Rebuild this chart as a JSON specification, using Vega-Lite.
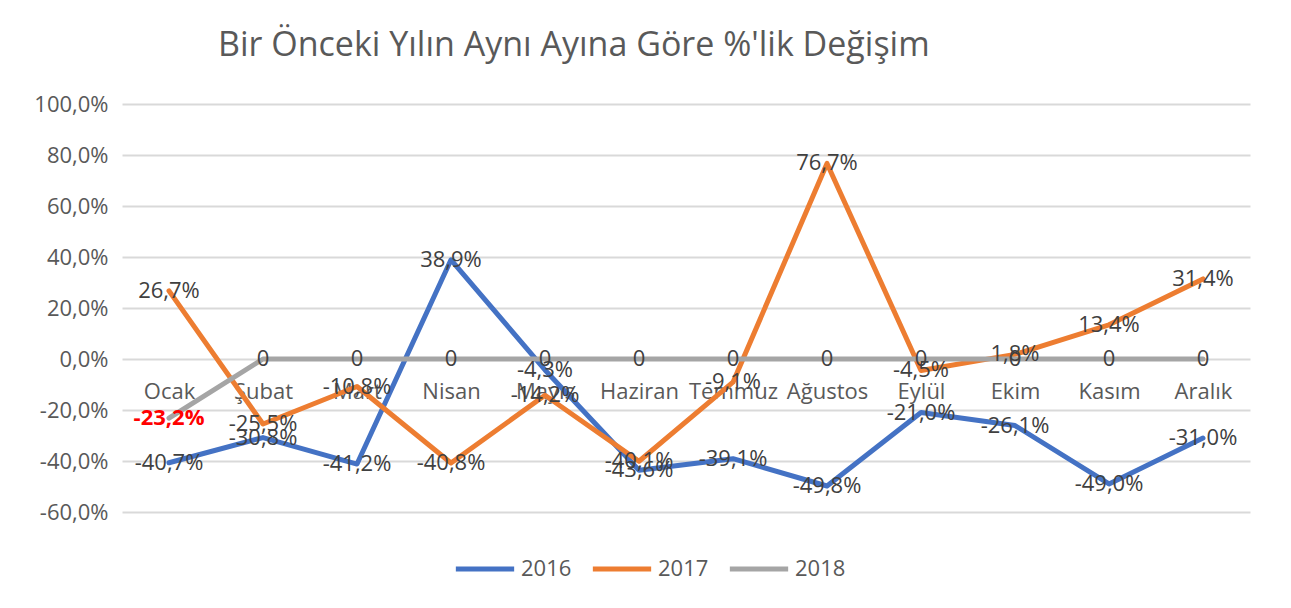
{
  "$schema": "https://vega.github.io/schema/vega-lite/v6.json",
  "width": 1128,
  "height": 408,
  "autosize": {"type": "none"},
  "padding": {"left": 122, "top": 104, "right": 41, "bottom": 96},
  "background": "white",
  "title": {
    "text": "Bir Önceki Yılın Aynı Ayına Göre %'lik Değişim",
    "anchor": "start",
    "frame": "group",
    "dx": 96,
    "offset": 30,
    "fontSize": 34,
    "font": "Open Sans",
    "fontWeight": "normal",
    "color": "#595959"
  },
  "config": {
    "locale": {"number": {"decimal": ",", "thousands": ".", "grouping": [3], "currency": ["₺", ""], "minus": "-"}},
    "font": "Open Sans",
    "view": {"stroke": null}
  },
  "data": {
    "values": [
      {"ay": "Ocak", "yil": "2016", "deger": -0.407},
      {"ay": "Şubat", "yil": "2016", "deger": -0.308},
      {"ay": "Mart", "yil": "2016", "deger": -0.412},
      {"ay": "Nisan", "yil": "2016", "deger": 0.389},
      {"ay": "Mayıs", "yil": "2016", "deger": -0.043},
      {"ay": "Haziran", "yil": "2016", "deger": -0.436},
      {"ay": "Temmuz", "yil": "2016", "deger": -0.391},
      {"ay": "Ağustos", "yil": "2016", "deger": -0.498},
      {"ay": "Eylül", "yil": "2016", "deger": -0.210},
      {"ay": "Ekim", "yil": "2016", "deger": -0.261},
      {"ay": "Kasım", "yil": "2016", "deger": -0.490},
      {"ay": "Aralık", "yil": "2016", "deger": -0.310},
      {"ay": "Ocak", "yil": "2017", "deger": 0.267},
      {"ay": "Şubat", "yil": "2017", "deger": -0.255},
      {"ay": "Mart", "yil": "2017", "deger": -0.108},
      {"ay": "Nisan", "yil": "2017", "deger": -0.408},
      {"ay": "Mayıs", "yil": "2017", "deger": -0.142},
      {"ay": "Haziran", "yil": "2017", "deger": -0.401},
      {"ay": "Temmuz", "yil": "2017", "deger": -0.091},
      {"ay": "Ağustos", "yil": "2017", "deger": 0.767},
      {"ay": "Eylül", "yil": "2017", "deger": -0.045},
      {"ay": "Ekim", "yil": "2017", "deger": 0.018},
      {"ay": "Kasım", "yil": "2017", "deger": 0.134},
      {"ay": "Aralık", "yil": "2017", "deger": 0.314},
      {"ay": "Ocak", "yil": "2018", "deger": -0.232},
      {"ay": "Şubat", "yil": "2018", "deger": 0},
      {"ay": "Mart", "yil": "2018", "deger": 0},
      {"ay": "Nisan", "yil": "2018", "deger": 0},
      {"ay": "Mayıs", "yil": "2018", "deger": 0},
      {"ay": "Haziran", "yil": "2018", "deger": 0},
      {"ay": "Temmuz", "yil": "2018", "deger": 0},
      {"ay": "Ağustos", "yil": "2018", "deger": 0},
      {"ay": "Eylül", "yil": "2018", "deger": 0},
      {"ay": "Ekim", "yil": "2018", "deger": 0},
      {"ay": "Kasım", "yil": "2018", "deger": 0},
      {"ay": "Aralık", "yil": "2018", "deger": 0}
    ]
  },
  "encoding": {
    "x": {
      "field": "ay",
      "type": "nominal",
      "sort": ["Ocak", "Şubat", "Mart", "Nisan", "Mayıs", "Haziran", "Temmuz", "Ağustos", "Eylül", "Ekim", "Kasım", "Aralık"],
      "axis": {
        "title": null,
        "labelAngle": 0,
        "domain": false,
        "ticks": false,
        "grid": false,
        "offset": -131,
        "labelPadding": 0,
        "labelFontSize": 22,
        "labelColor": "#595959",
        "labelFont": "Open Sans"
      }
    },
    "y": {
      "field": "deger",
      "type": "quantitative",
      "scale": {"domain": [-0.6, 1.0], "nice": false, "zero": false},
      "axis": {
        "title": null,
        "format": ".1%",
        "values": [-0.6, -0.4, -0.2, 0, 0.2, 0.4, 0.6, 0.8, 1.0],
        "domain": false,
        "ticks": false,
        "labelPadding": 14,
        "labelFontSize": 22,
        "labelColor": "#595959",
        "gridColor": "#d9d9d9",
        "gridWidth": 2
      }
    }
  },
  "layer": [
    {
      "mark": {"type": "line", "strokeWidth": 5, "strokeJoin": "round", "strokeCap": "round"},
      "encoding": {
        "color": {
          "field": "yil",
          "type": "nominal",
          "scale": {"domain": ["2016", "2017", "2018"], "range": ["#4472C4", "#ED7D31", "#A5A5A5"]},
          "legend": {
            "title": null,
            "orient": "none",
            "direction": "horizontal",
            "legendX": 331,
            "legendY": 433,
            "symbolType": "stroke",
            "symbolSize": 3400,
            "symbolStrokeWidth": 5,
            "labelFontSize": 22,
            "labelColor": "#595959",
            "labelOffset": 4,
            "columnPadding": 10
          }
        },
        "order": {"field": "yil"}
      }
    },
    {
      "transform": [{"filter": "!(datum.yil == '2018' && datum.ay == 'Ocak')"}],
      "mark": {"type": "text", "fontSize": 22, "color": "#404040", "align": "center", "baseline": "middle"},
      "encoding": {
        "text": {
          "condition": {"test": "datum.yil == '2018' && datum.deger == 0", "value": "0"},
          "field": "deger",
          "type": "quantitative",
          "format": ".1%"
        }
      }
    },
    {
      "transform": [{"filter": "datum.yil == '2018' && datum.ay == 'Ocak'"}],
      "mark": {"type": "text", "fontSize": 22, "fontWeight": "bold", "color": "#FF0000", "align": "center", "baseline": "middle"},
      "encoding": {
        "text": {"field": "deger", "type": "quantitative", "format": ".1%"}
      }
    }
  ]
}
